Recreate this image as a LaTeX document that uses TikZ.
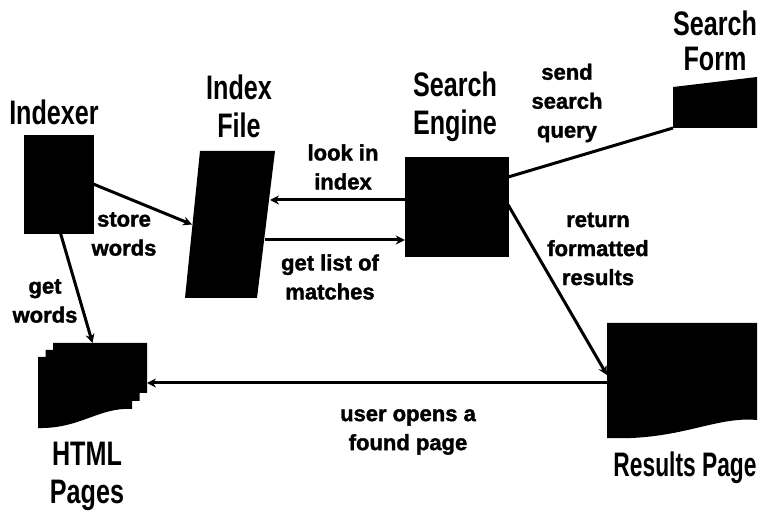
\documentclass[tikz,border=0pt]{standalone}
\usepackage{fontspec}
\setmainfont{Liberation Sans}
\newfontfamily\titlefont{Liberation Sans}[FakeStretch=0.74]
\newfontfamily\titlefontn{Liberation Sans}[FakeStretch=0.67]
\newfontfamily\lblfont{Liberation Sans}[BoldFeatures={FakeBold=1.6}]
\usetikzlibrary{arrows.meta}
\begin{document}
\begin{tikzpicture}[x=1pt,y=-1pt,
  title/.style={font=\titlefont\bfseries\fontsize{34}{38}\selectfont, align=center, inner sep=0pt},
  lbl/.style={font=\lblfont\bfseries\fontsize{22}{29}\selectfont, align=center, inner sep=0pt},
  blk/.style={fill=black, draw=black, inner sep=0pt},
  ghost/.style={inner sep=0pt, outer sep=0pt},
  conn/.style={line width=3pt},
  arr/.style={conn, -{Stealth[length=9pt,width=9pt]}}]
\useasboundingbox[fill=white] (0,0) rectangle (772,521);

% ---- shapes ----
\node[blk, minimum width=69pt, minimum height=98pt] (indexer) at (58.5,184) {};

% index file (parallelogram)
\fill (200,151) -- (275,151) -- (257,298) -- (185,298) -- cycle;
\node[ghost, minimum width=90pt, minimum height=147pt] (file) at (230,224.5) {};

\node[blk, minimum width=103pt, minimum height=99pt] (engine) at (456.5,206.5) {};

% search form
\fill (673,87) -- (757,77) -- (757,128) -- (673,128) -- cycle;
\node[ghost, minimum width=84pt, minimum height=48pt] (form) at (715,104) {};

% html pages (stack)
\fill (53,343) -- (147,343) -- (147,393) .. controls (114,391) and (95,413) .. (53,412) -- cycle;
\fill (45.5,350) -- (139.5,350) -- (139.5,401) .. controls (106,399) and (88,421) .. (45.5,420) -- cycle;
\fill (38,357) -- (132,357) -- (132,409) .. controls (99,407) and (80,429) .. (38,428) -- cycle;
\node[ghost, minimum width=109pt, minimum height=85pt] (html) at (92.5,385.5) {};

% results page
\fill (607,323) -- (757,323) -- (757,420) .. controls (715,416) and (680,441) .. (607,438) -- cycle;
\node[ghost, minimum width=150pt, minimum height=117pt] (results) at (682,381.5) {};

% ---- titles ----
\node[title] (tindexer) at (54,112) {Indexer};
\node[title] (tfile) at (239,106) {Index\\File};
\node[title] (tengine) at (455,107) {Search\\Engine};
\node[title, font=\titlefont\bfseries\fontsize{34}{35}\selectfont] (tform) at (715,41) {Search\\Form};
\node[title] (thtml) at (87,476) {HTML\\Pages};
\node[title, font=\titlefontn\bfseries\fontsize{34}{38}\selectfont] (tresults) at (685,468) {Results Page};

% ---- connectors ----
\draw[arr] (indexer.east) -- ([xshift=7pt]file.west);
\draw[arr] ([xshift=2pt]indexer.south) -- (html.north);
\draw[arr] (engine.west |- 0,200) -- ([xshift=-5pt]file.east |- 0,200);
\draw[arr] ([xshift=-10pt]file.east |- 0,240) -- (engine.west |- 0,240);
\draw[conn] (engine.east |- 0,177) -- (form.south west);
\draw[arr] (engine.east |- 0,205) -- (results.west |- 0,375);
\draw[arr] (results.west |- 0,383) -- (html.east |- 0,383);

% ---- labels ----
\node[lbl] (lstore) at (124,234) {store\\words};
\node[lbl] (lget) at (45,301) {get\\words};
\node[lbl] (llook) at (343,167) {look in\\index};
\node[lbl] (llist) at (330,277) {get list of\\matches};
\node[lbl] (lsend) at (567,103) {send\\search\\query};
\node[lbl] (lreturn) at (598,249) {return\\formatted\\results};
\node[lbl] (luser) at (408,432) {user opens a\\found page};
\end{tikzpicture}
\end{document}
